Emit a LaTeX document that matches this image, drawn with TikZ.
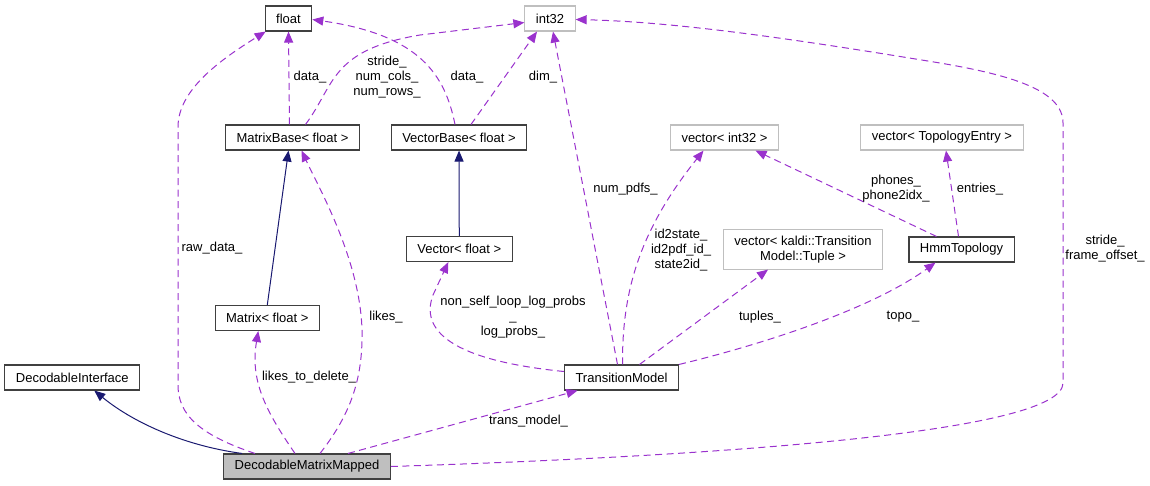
\documentclass[tikz,border=0pt]{standalone}
\usepackage{fontspec}
\setmainfont{Liberation Sans}
\usetikzlibrary{arrows.meta}
\definecolor{edgepurple}{HTML}{9A32CD}
\definecolor{edgenavy}{HTML}{191970}
\begin{document}
\begin{tikzpicture}[x=1pt, y=-1pt,
cls/.style={draw=black!75, line width=1.1pt, fill=white, inner xsep=11pt, minimum height=25pt, font=\fontsize{13}{15}\selectfont},
ext/.style={cls, draw=black!25},
mem/.style={draw=edgepurple, line width=1pt, dash pattern=on 7pt off 4.5pt, -{Triangle[length=11pt,width=9pt]}},
inh/.style={draw=edgenavy, line width=1pt, -{Triangle[length=11pt,width=9pt]}},
lbl/.style={font=\fontsize{13}{15}\selectfont, align=center, inner sep=0pt}]
\useasboundingbox (0,0) rectangle (1150,485);
\node[cls] (flt) at (288.5,18.5) {float};
\node[ext] (i32) at (550,18.5) {int32};
\node[cls] (mbase) at (292.5,137.5) {MatrixBase< float >};
\node[cls] (vbase) at (459,137.5) {VectorBase< float >};
\node[cls] (vec) at (459.3,249) {Vector< float >};
\node[cls] (mat) at (267.3,318) {Matrix< float >};
\node[cls] (dif) at (72.3,377.5) {DecodableInterface};
\node[cls, fill=black!25] (dmm) at (307,466.5) {DecodableMatrixMapped};
\node[cls] (tm) at (621.5,377.5) {TransitionModel};
\node[cls] (hmm) at (961.5,249.5) {HmmTopology};
\node[ext, align=center, inner ysep=6pt] (vtup) at (803,249.5) {vector< kaldi::Transition\\Model::Tuple >};
\node[ext] (vi32) at (724.5,137.5) {vector< int32 >};
\node[ext] (vtop) at (942,137.5) {vector< TopologyEntry >};
\draw[inh] ([xshift=-65pt]dmm.north) .. controls (180,445) and (130,420) .. ([xshift=22pt]dif.south);
\draw[inh] (mat.north) -- ([xshift=-4pt]mbase.south);
\draw[inh] (vec) -- (vbase);
\draw[mem] ([xshift=-52pt]dmm.north) .. controls (200,435) and (178,415) .. (178,385) -- (178,127) .. controls (178,90) and (220,60) .. ([xshift=1pt]flt.south west);
\draw[mem] ([xshift=-12pt]dmm.north) .. controls (265,410) and (250,380) .. ([xshift=-9pt]mat.south);
\draw[mem] ([xshift=13pt]dmm.north) .. controls (350,415) and (363,380) .. (362,330) .. controls (360,260) and (320,190) .. ([xshift=9pt]mbase.south);
\draw[mem] ([xshift=41pt]dmm.north) -- ([xshift=-44pt]tm.south);
\draw[mem] (dmm.east) .. controls (750,455) and (1063,430) .. (1063,383) -- (1063,123) .. controls (1063,90) and (1010,75) .. (940,63) .. controls (800,40) and (680,22) .. ([yshift=-1pt]i32.east);
\draw[mem] ([xshift=-3pt]mbase.north) -- (flt.south);
\draw[mem] ([xshift=13pt]mbase.north) .. controls (335,85) and (330,50) .. (420,35) -- ([yshift=-4pt]i32.west);
\draw[mem] ([xshift=-4pt]vbase.north) .. controls (445,75) and (420,35) .. ([yshift=-1pt]flt.east);
\draw[mem] ([xshift=12pt]vbase.north) -- ([xshift=-13pt]i32.south);
\draw[mem] ([xshift=-4pt]tm.north) -- ([xshift=3pt]i32.south);
\draw[mem] ([xshift=1pt]tm.north) .. controls (622,290) and (640,230) .. ([xshift=-21pt]vi32.south);
\draw[mem] ([xshift=18pt]tm.north) -- ([xshift=-35pt]vtup.south);
\draw[mem] (tm.north east) .. controls (760,345) and (870,310) .. ([xshift=-26pt]hmm.south);
\draw[mem] ([yshift=6pt]tm.west) .. controls (450,360) and (420,330) .. (433,295) -- ([xshift=-11pt]vec.south);
\draw[mem] ([xshift=-25pt]hmm.north) -- ([xshift=31pt]vi32.south);
\draw[mem] ([xshift=-3pt]hmm.north) -- ([xshift=4pt]vtop.south);
\node[lbl] (lraw) at (212,248) {raw\_data\_};
\node[lbl] (lmdata) at (310,77) {data\_};
\node[lbl] (lstride) at (387,77) {stride\_\\num\_cols\_\\num\_rows\_};
\node[lbl] (lvdata) at (467,77) {data\_};
\node[lbl] (ldim) at (543,77) {dim\_};
\node[lbl] (llikes) at (386,317) {likes\_};
\node[lbl] (ldel) at (309,377) {likes\_to\_delete\_};
\node[lbl] (ltrans) at (528.5,421) {trans\_model\_};
\node[lbl] (lprobs) at (513,317) {non\_self\_loop\_log\_probs\\\_\\log\_probs\_};
\node[lbl] (lpdfs) at (625.5,189) {num\_pdfs\_};
\node[lbl] (lids) at (681,250) {id2state\_\\id2pdf\_id\_\\state2id\_};
\node[lbl] (ltup) at (760,317) {tuples\_};
\node[lbl] (ltopo) at (903,317) {topo\_};
\node[lbl] (lphones) at (896,188.5) {phones\_\\phone2idx\_};
\node[lbl] (lentries) at (980,189) {entries\_};
\node[lbl] (lframe) at (1105,249) {stride\_\\frame\_offset\_};
\end{tikzpicture}
\end{document}
